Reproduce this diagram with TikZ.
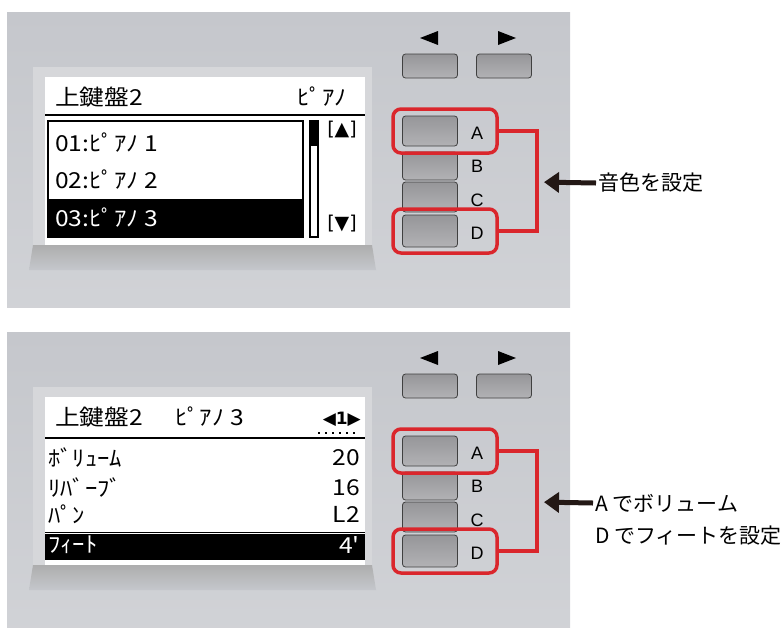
\documentclass[tikz,border=0pt]{standalone}
\usepackage{fontspec}
\setmainfont{Liberation Sans}
\newfontfamily\jpfont{Noto Sans CJK JP}
\newfontfamily\symfont{DejaVu Sans}
\usetikzlibrary{arrows.meta,positioning}

\definecolor{panelgray}{RGB}{197,199,204}
\definecolor{bezelgray}{RGB}{214,215,218}
\definecolor{keytop}{RGB}{150,150,153}
\definecolor{keybot}{RGB}{178,178,181}
\definecolor{markred}{RGB}{218,38,44}
\definecolor{arrowblack}{RGB}{35,24,21}

\tikzset{
  key/.style={draw=black!75, line width=0.8pt, rounded corners=3pt,
    top color=keytop, bottom color=keybot, minimum width=55pt,
    minimum height=30pt, inner sep=0pt},
  keylabel/.style={font=\fontsize{18}{18}\selectfont, inner sep=0pt},
  selbox/.style={draw=markred, line width=3.5pt, rounded corners=8pt,
    minimum width=104pt, minimum height=44pt, inner sep=0pt},
  lcd/.style={font=\jpfont\fontsize{22}{22}\selectfont, inner sep=0pt,
    xscale=1.12, transform shape},
  note/.style={font=\jpfont\fontsize{21}{21}\selectfont, inner sep=2pt, anchor=west},
  pointer/.style={arrowblack, line width=5pt,
    -{Triangle[length=15pt,width=20pt]}, shorten >=7pt},
}

\begin{document}
\begin{tikzpicture}[x=1pt,y=-1pt]
\useasboundingbox (0,0) rectangle (783,627);

% panel, bezel and keys, once per panel
\foreach \i/\dy in {1/0,2/320} {
  \begin{scope}[yshift=-\dy pt]
    \shade[top color=panelgray, bottom color=panelgray!80!white] (7,12) rectangle (570,307);
    \fill[bezelgray] (33,67) rectangle (372,245);
    \shade[top color=black!32, bottom color=panelgray] (33,245) -- (372,245) -- (376,270) -- (29,270) -- cycle;
    \fill[white] (45,77) rectangle (365,245);
    % page arrows
    \fill (420,38) -- (438,31) -- (438,45) -- cycle;
    \fill (516,38) -- (498,31) -- (498,45) -- cycle;
    \node[key, minimum height=24pt] (prev\i) at (430,66) {};
    \node[key, minimum height=24pt] (next\i) at (504,66) {};
    % function keys
    \node[key] (keyA\i) at (430,131) {};
    \node[key, minimum height=28pt] (keyB\i) at (430,166) {};
    \node[key] (keyC\i) at (430,197) {};
    \node[key, minimum height=32pt] (keyD\i) at (430,231) {};
    \node[keylabel] at (477,133) {A};
    \node[keylabel] at (477,166) {B};
    \node[keylabel] at (477,200) {C};
    \node[keylabel] at (477,233) {D};
    % marks
    \node[selbox] (selA\i) at (445,131) {};
    \node[selbox] (selD\i) at (445,231) {};
    \coordinate (brk\i) at (537,182);
    \draw[markred, line width=3.5pt] (selA\i.east) -| (brk\i) |- (selD\i.east);
  \end{scope}
}

% upper screen
\node[lcd, anchor=west] (part1) at (55,97) {上鍵盤2};
\node[lcd, anchor=east] (voice1) at (347,97) {ﾋﾟｱﾉ};
\draw[line width=2.5pt] (45,115) -- (365,115);
\draw[line width=1.5pt] (48,121) rectangle (303,237);
\fill (48,199) rectangle (303,237);
\node[lcd, anchor=west] (item1) at (55,143) {01:ﾋﾟｱﾉ 1};
\node[lcd, anchor=west] (item2) at (55,180) {02:ﾋﾟｱﾉ 2};
\node[lcd, anchor=west, text=white] (item3) at (55,218) {03:ﾋﾟｱﾉ 3};
\draw[line width=1.2pt] (310,121) rectangle (318,237);
\fill (311,122) rectangle (317,146);
\node[font=\symfont\fontsize{19}{19}\selectfont, inner sep=0pt] (up) at (342,130) {[▲]};
\node[font=\symfont\fontsize{19}{19}\selectfont, inner sep=0pt] (down) at (342,224) {[▼]};

% lower screen
\node[lcd, anchor=west] (part2) at (55,417) {上鍵盤2};
\node[lcd, anchor=west] (voice2) at (175,417) {ﾋﾟｱﾉ 3};
\node[font=\symfont\bfseries\fontsize{17}{17}\selectfont, inner sep=0pt, anchor=east] (pg) at (361,419) {◀1▶};
\draw[line width=1.5pt, dash pattern=on 2pt off 5pt] (318,433) -- (356,433);
\draw[line width=2.5pt] (45,438) -- (365,438);
\node[lcd, anchor=west] (vol) at (48,458) {ﾎﾞﾘｭｰﾑ};
\node[lcd, anchor=east] (volv) at (360,458) {20};
\node[lcd, anchor=west] (rev) at (48,488) {ﾘﾊﾞｰﾌﾞ};
\node[lcd, anchor=east] (revv) at (360,488) {16};
\node[lcd, anchor=west] (pan) at (48,514) {ﾊﾟﾝ};
\node[lcd, anchor=east] (panv) at (360,514) {L2};
\draw[line width=0.8pt] (45,532) -- (365,532);
\fill (45,534) rectangle (365,560);
\node[lcd, anchor=west, text=white] (feet) at (48,545) {ﾌｨｰﾄ};
\node[lcd, anchor=east, text=white] (feetv) at (360,545) {4'};

% notes
\node[note] (tone) at (596,183) {音色を設定};
\draw[pointer] (tone.west) -- (brk1);
\node[note] (volnote) at (593,503) {A でボリューム};
\node[note, below=9pt of volnote.south west, anchor=north west] (feetnote) {D でフィートを設定};
\draw[pointer] (volnote.west) -- (brk2);
\end{tikzpicture}
\end{document}
